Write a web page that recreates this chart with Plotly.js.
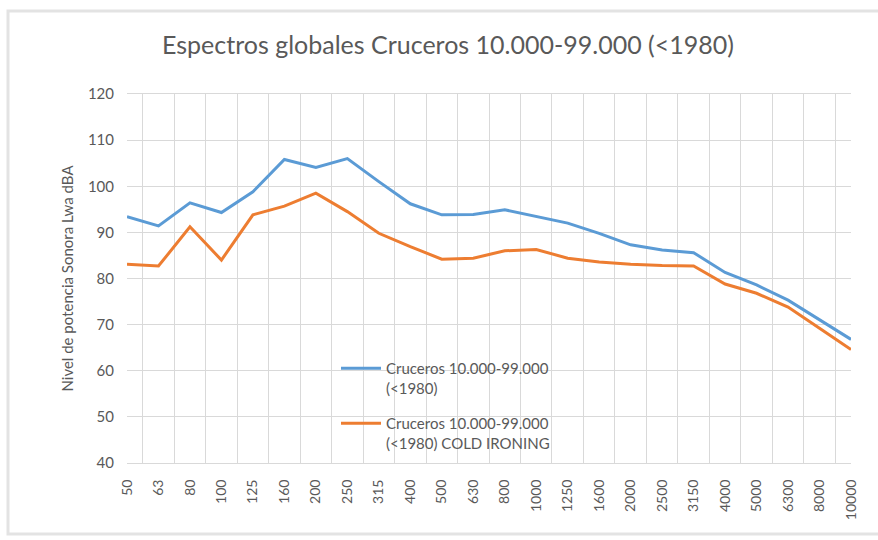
<!DOCTYPE html>
<html>
<head>
<meta charset="utf-8">
<script src="https://cdn.plot.ly/plotly-3.0.1.min.js"></script>
<style>html,body{margin:0;padding:0;background:#fff;}#chart{width:878px;height:540px;}</style>
</head>
<body>
<div id="chart"></div>
<script>
const frequencies = ["50","63","80","100","125","160","200","250","315","400","500","630","800","1000","1250","1600","2000","2500","3150","4000","5000","6300","8000","10000"];
const cruceros = [93.4,91.4,96.4,94.3,98.8,105.8,104.1,106.0,101.0,96.2,93.8,93.9,94.9,93.4,92.0,89.8,87.3,86.2,85.6,81.3,78.6,75.3,71.0,66.8];
const crucerosColdIroning = [83.1,82.7,91.2,84.0,93.8,95.7,98.5,94.5,89.8,86.9,84.2,84.4,86.0,86.3,84.4,83.6,83.1,82.8,82.7,78.8,76.8,73.8,69.2,64.6];
const seriesNames = ["Cruceros 10.000-99.000<br>(<1980)", "Cruceros 10.000-99.000<br>(<1980) COLD IRONING"];

const L = 127, R = 851, T = 94, B = 463;
const px = v => (v - L) / (R - L);
const py = v => (B - v) / (B - T);

const font = "Lato, 'Open Sans', sans-serif";
const traces = [
  {x: frequencies, y: cruceros, name: seriesNames[0], legendgroup: 'g1', type: 'scatter', mode: 'lines',
   line: {color: '#5b9bd5', width: 3}},
  {x: frequencies, y: crucerosColdIroning, name: seriesNames[1], legendgroup: 'g2', type: 'scatter', mode: 'lines',
   line: {color: '#ed7d31', width: 3}}
];
const layout = {
  width: 878, height: 540,
  margin: {l: L, r: 878 - R, t: T, b: 540 - B},
  paper_bgcolor: '#ffffff', plot_bgcolor: '#ffffff',
  font: {family: font, color: '#595959', size: 12},
  title: {text: 'Espectros globales Cruceros 10.000-99.000 (<1980)', x: 448 / 878, xref: 'container', xanchor: 'center',
          y: 1 - 45 / 540, yref: 'container', yanchor: 'middle', font: {size: 25, color: '#595959', family: font}},
  xaxis: {type: 'category', tickson: 'boundaries', showgrid: true, gridcolor: '#d9d9d9', gridwidth: 1,
          ticks: '', tickangle: -90, ticklabelstandoff: 10, tickfont: {size: 14, color: '#595959'},
          showline: true, linecolor: '#d9d9d9', mirror: true, zeroline: false, fixedrange: true},
  yaxis: {range: [40, 120], dtick: 10, showgrid: true, gridcolor: '#d9d9d9', gridwidth: 1,
          ticks: '', ticklabelstandoff: 12, tickfont: {size: 15, color: '#595959'}, zeroline: false,
          showline: false,
          title: {text: 'Nivel de potencia Sonora Lwa dBA', font: {size: 15, color: '#595959'}, standoff: 10}},
  showlegend: true,
  legend: {x: px(336), y: py(352), xanchor: 'left', yanchor: 'top', bgcolor: 'rgba(0,0,0,0)', valign: 'top',
           traceorder: 'grouped', font: {size: 15, color: '#595959'}, tracegroupgap: 13, itemwidth: 40},
  shapes: [
    {type: 'rect', xref: 'paper', yref: 'paper', x0: px(8), x1: px(890), y0: py(534), y1: py(11),
     line: {color: '#e3e3e3', width: 3}, fillcolor: 'rgba(0,0,0,0)', layer: 'below'}
  ]
};
Plotly.newPlot('chart', traces, layout, {displayModeBar: false, staticPlot: true});
</script>
</body>
</html>
